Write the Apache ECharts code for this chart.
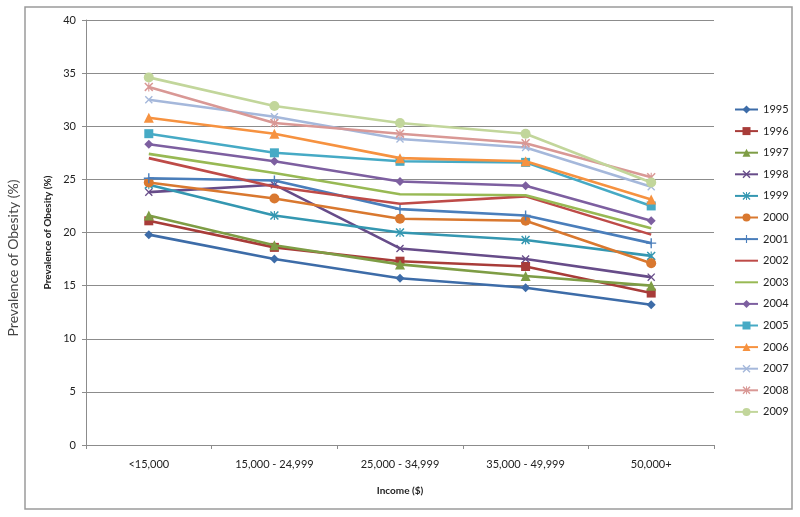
<!DOCTYPE html>
<html>
<head>
<meta charset="utf-8">
<script src="https://cdn.jsdelivr.net/npm/echarts@6/dist/echarts.min.js"></script>
<style>html,body{margin:0;padding:0;background:#fff;}#c{width:800px;height:517px;}</style>
</head>
<body>
<div id="c"></div>
<script>
const categories = ['<15,000', '15,000 - 24,999', '25,000 - 34,999', '35,000 - 49,999', '50,000+'];
const years = ['1995','1996','1997','1998','1999','2000','2001','2002','2003','2004','2005','2006','2007','2008','2009'];
const yTicks = [0, 5, 10, 15, 20, 25, 30, 35, 40];

const v1995 = [19.8, 17.5, 15.7, 14.8, 13.2];
const v1996 = [21.1, 18.6, 17.3, 16.8, 14.3];
const v1997 = [21.6, 18.8, 17.0, 15.9, 15.0];
const v1998 = [23.8, 24.5, 18.5, 17.5, 15.8];
const v1999 = [24.5, 21.6, 20.0, 19.3, 17.8];
const v2000 = [24.7, 23.2, 21.3, 21.1, 17.1];
const v2001 = [25.1, 24.9, 22.2, 21.6, 19.0];
const v2002 = [27.0, 24.3, 22.7, 23.4, 19.8];
const v2003 = [27.4, 25.6, 23.6, 23.5, 20.4];
const v2004 = [28.3, 26.7, 24.8, 24.4, 21.1];
const v2005 = [29.3, 27.5, 26.7, 26.6, 22.5];
const v2006 = [30.8, 29.3, 27.0, 26.7, 23.1];
const v2007 = [32.5, 30.9, 28.8, 28.0, 24.3];
const v2008 = [33.7, 30.3, 29.3, 28.4, 25.2];
const v2009 = [34.6, 31.9, 30.3, 29.3, 24.7];
const allValues = [v1995,v1996,v1997,v1998,v1999,v2000,v2001,v2002,v2003,v2004,v2005,v2006,v2007,v2008,v2009];

const colors = ['#3D6CA8','#A83C39','#7E9D45','#674C89','#3497B1','#D9782F','#4A7EBB','#BE4B48','#98B954','#7D5FA0','#46AAC5','#F69240','#A5B8DB','#D99895','#C2D69B'];
const X = 'path://M0,1.2L1.2,0L10,8.8L8.8,10Z M8.8,0L10,1.2L1.2,10L0,8.8Z';
const STAR = 'path://M0,1.2L1.2,0L10,8.8L8.8,10Z M8.8,0L10,1.2L1.2,10L0,8.8Z M4.4,0H5.6V10H4.4Z';
const PLUS = 'path://M4.3,0H5.7V10H4.3Z M0,4.3H10V5.7H0Z';
const symbols = ['diamond','rect','triangle',X,STAR,'circle',PLUS,'none','none','diamond','rect','triangle',X,STAR,'circle'];
const sizes = [9,9,10,8,9,10,10,0,0,9,9,10,8,9,10];

const FONT = 'Lato, "Open Sans", sans-serif';
const chart = echarts.init(document.getElementById('c'));
chart.setOption({
  animation: false,
  backgroundColor: '#fff',
  grid: {left: 86, right: 86, top: 20, bottom: 72},
  legend: {
    orient: 'vertical', left: 729, top: 99,
    itemWidth: 23, itemHeight: 10, itemGap: 10.6,
    textStyle: {fontFamily: FONT, fontSize: 11, color: '#222'},
    data: years.map((y, i) => symbols[i] === 'none' ? {name: y, itemStyle: {opacity: 0}} : {name: y})
  },
  xAxis: {
    type: 'category', data: categories, boundaryGap: true,
    axisLine: {lineStyle: {color: '#8c8c8c'}},
    axisTick: {show: true, length: 4, lineStyle: {color: '#8c8c8c'}},
    axisLabel: {fontFamily: FONT, fontSize: 11, color: '#222', margin: 14, interval: 0},
    name: 'Income ($)', nameLocation: 'middle', nameGap: 41,
    nameTextStyle: {fontFamily: FONT, fontSize: 10, fontWeight: 'bold', color: '#222'}
  },
  yAxis: {
    type: 'value', min: 0, max: 40, interval: 5,
    axisLine: {show: true, lineStyle: {color: '#8c8c8c'}},
    axisTick: {show: true, length: 4, lineStyle: {color: '#8c8c8c'}},
    splitLine: {lineStyle: {color: '#8c8c8c'}},
    axisLabel: {fontFamily: FONT, fontSize: 11, color: '#222', margin: 10,
      formatter: v => yTicks.includes(v) ? String(v) : ''},
    name: 'Prevalence of Obesity (%)', nameLocation: 'middle', nameGap: 27,
    nameTextStyle: {fontFamily: FONT, fontSize: 10, fontWeight: 'bold', color: '#222'}
  },
  graphic: [
    {type: 'rect', shape: {x: 25, y: 7, width: 767, height: 502}, style: {fill: 'none', stroke: '#9a9a9a', lineWidth: 1.5}, silent: true},
    {type: 'text', x: 13, y: 258, rotation: Math.PI/2, style: {text: 'Prevalence of Obesity (%)', font: '14px ' + FONT, fill: '#444', textAlign: 'center', textVerticalAlign: 'middle'}}
  ],
  series: years.map((y, i) => ({
    name: y, type: 'line', data: allValues[i],
    symbol: symbols[i], symbolSize: sizes[i], showSymbol: symbols[i] !== 'none',
    lineStyle: {color: colors[i], width: 2.6},
    itemStyle: {color: colors[i], borderColor: colors[i], borderWidth: 0},
    emphasis: {disabled: true},
    z: 2 + i
  }))
});
</script>
</body>
</html>
